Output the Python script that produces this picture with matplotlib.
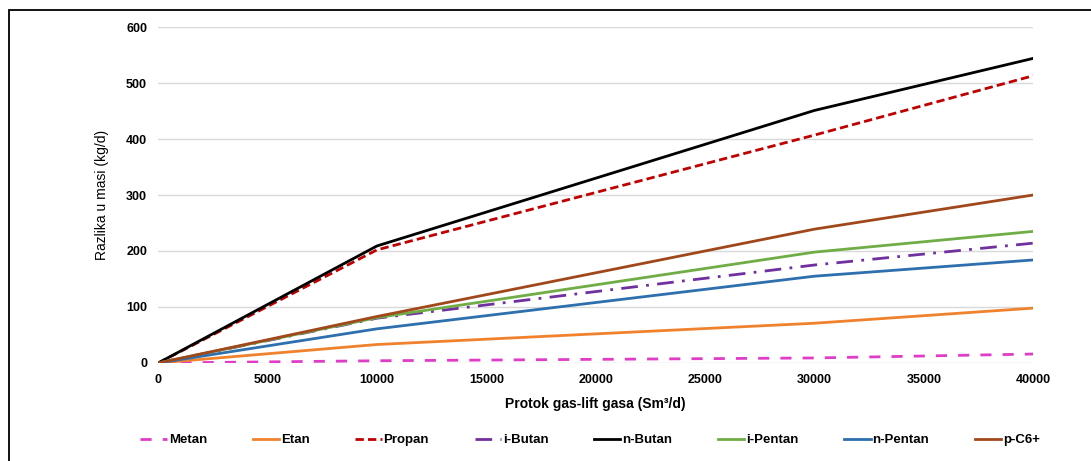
import matplotlib.pyplot as plt
from matplotlib.patches import Rectangle

plt.rcParams['font.family'] = ['Liberation Sans', 'DejaVu Sans']

protok = [0, 10000, 30000, 40000]

metan = [0, 4, 9, 16]
etan = [0, 33, 71, 98]
propan = [0, 202, 407, 513]
i_butan = [0, 80, 175, 214]
n_butan = [0, 209, 451, 544]
i_pentan = [0, 81, 198, 235]
n_pentan = [0, 61, 155, 184]
p_c6 = [0, 83, 239, 300]

serije = [
    ('Metan', metan, '#E03CC8', (0, (4, 4))),
    ('Etan', etan, '#F0822E', '-'),
    ('Propan', propan, '#C00000', (0, (3, 1.5))),
    ('i-Butan', i_butan, '#7030A0', (0, (6, 3, 1, 3))),
    ('n-Butan', n_butan, '#000000', '-'),
    ('i-Pentan', i_pentan, '#70AD47', '-'),
    ('n-Pentan', n_pentan, '#2E6FAE', '-'),
    ('p-C6+', p_c6, '#A0481C', '-'),
]

fig = plt.figure(figsize=(10.91, 4.61), dpi=100)
ax = fig.add_axes([0.145, 0.2126, 0.802, 0.7288])

for ime, vrijednosti, boja, stil in serije:
    ax.plot(protok, vrijednosti, color=boja, linestyle=stil, linewidth=2, label=ime)

ax.set_xlim(0, 40000)
ax.set_ylim(0, 600)
ax.set_xticks(range(0, 40001, 5000))
ax.set_yticks(range(0, 601, 100))
ax.grid(axis='y', color='#D9D9D9', linewidth=1)
ax.set_axisbelow(True)
for s in ax.spines.values():
    s.set_visible(False)
ax.tick_params(length=0, labelsize=9, pad=8)
for t in ax.get_xticklabels() + ax.get_yticklabels():
    t.set_fontweight('bold')

ax.set_xlabel('Protok gas-lift gasa (Sm³/d)', fontsize=10, fontweight='bold', labelpad=8)
ax.set_ylabel('Razlika u masi (kg/d)', fontsize=10, labelpad=12)

leg = fig.legend(loc='center', bbox_to_anchor=(0.541, 0.045), ncol=8, frameon=False,
                 handlelength=2.0, handletextpad=0.15, columnspacing=3.45,
                 prop={'weight': 'bold', 'size': 9.5})

fig.patches.append(Rectangle((9 / 1091, -0.1), 1.2, 1 - 10 / 461 + 0.1,
                             transform=fig.transFigure, fill=False,
                             edgecolor='black', linewidth=1.3))

fig.savefig('out.png', dpi=100)
